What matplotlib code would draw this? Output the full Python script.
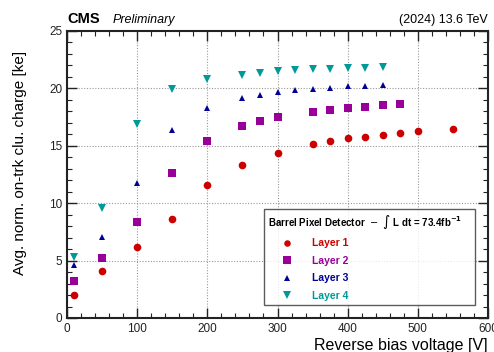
import numpy as np
import matplotlib
matplotlib.use("Agg")
import matplotlib.pyplot as plt
from matplotlib.ticker import MultipleLocator

plt.rcParams['font.family'] = ['Liberation Sans', 'DejaVu Sans']

# ===== 데이터 =====
v_l1 = [10, 50, 100, 150, 200, 250, 300, 350, 375, 400, 425, 450, 475, 500, 550]
q_l1 = [2.0, 4.05, 6.15, 8.6, 11.55, 13.35, 14.4, 15.15, 15.4, 15.65, 15.8, 15.95, 16.1, 16.25, 16.5]

v_l2 = [10, 50, 100, 150, 200, 250, 275, 300, 350, 375, 400, 425, 450, 475]
q_l2 = [3.2, 5.25, 8.33, 12.66, 15.45, 16.72, 17.13, 17.48, 17.92, 18.15, 18.26, 18.4, 18.52, 18.66]

v_l3 = [10, 50, 100, 150, 200, 250, 275, 300, 325, 350, 375, 400, 425, 450]
q_l3 = [4.6, 7.05, 11.8, 16.37, 18.26, 19.13, 19.42, 19.66, 19.83, 19.92, 20.03, 20.18, 20.2, 20.27]

v_l4 = [10, 50, 100, 150, 200, 250, 275, 300, 325, 350, 375, 400, 425, 450]
q_l4 = [5.28, 9.6, 16.9, 19.95, 20.79, 21.19, 21.37, 21.49, 21.6, 21.66, 21.72, 21.8, 21.74, 21.83]

layer_names = ["Layer 1", "Layer 2", "Layer 3", "Layer 4"]
layer_colors = ["#cc0000", "#990099", "#000099", "#009999"]
layer_markers = ["o", "s", "^", "v"]
layer_sizes = [5.5, 6, 5, 6]

# ===== Figure / Axes =====
fig = plt.figure(figsize=(4.94, 3.52), dpi=100)
ax = fig.add_axes([0.1356, 0.0966, 0.8524, 0.8154])

series = [(v_l1, q_l1), (v_l2, q_l2), (v_l3, q_l3), (v_l4, q_l4)]
for (vx, qy), name, c, m, s in zip(series, layer_names, layer_colors, layer_markers, layer_sizes):
    ax.plot(vx, qy, linestyle="none", marker=m, color=c, markersize=s,
            markeredgewidth=0, label=name, zorder=3)

ax.set_xlim(0, 600)
ax.set_ylim(0, 25)
ax.xaxis.set_major_locator(MultipleLocator(100))
ax.xaxis.set_minor_locator(MultipleLocator(20))
ax.yaxis.set_major_locator(MultipleLocator(5))
ax.yaxis.set_minor_locator(MultipleLocator(1))

# ROOT 스타일 눈금 (안쪽, 4면)
ax.tick_params(which="both", direction="in", top=True, right=True, labelsize=8.5,
               colors="#222222")
ax.tick_params(which="major", length=7, width=1)
ax.tick_params(which="minor", length=3.5, width=0.8)
for sp in ax.spines.values():
    sp.set_linewidth(1.5)
    sp.set_color("#222222")

ax.grid(True, which="major", linestyle=(0, (1, 1.5)), color="#999999", linewidth=0.8)
ax.set_axisbelow(True)

ax.set_ylabel("Avg. norm. on-trk clu. charge [ke]", fontsize=11)
ax.yaxis.set_label_coords(-0.095, 0.54)
ax.set_xlabel("Reverse bias voltage [V]", fontsize=11.5, loc="right", labelpad=2)

# 상단 텍스트
fig.text(0.137, 0.925, "CMS", fontsize=10.5, fontweight="bold", ha="left", va="bottom")
fig.text(0.228, 0.925, "Preliminary", fontsize=9, style="italic", ha="left", va="bottom")
fig.text(0.988, 0.925, "(2024) 13.6 TeV", fontsize=9, ha="right", va="bottom")

# 범례
leg = ax.legend(loc="lower left", bbox_to_anchor=(0.468, 0.045, 0.501, 0.31),
                mode="expand", frameon=True, fancybox=False,
                title=r"Barrel Pixel Detector  $-$  $\int$ L dt = 73.4fb$^{\mathbf{-1}}$",
                title_fontproperties={"size": 7, "weight": "bold"},
                prop={"size": 7.5, "weight": "bold"},
                labelspacing=0.72, handletextpad=0.55, borderpad=0.4,
                handlelength=3.7, borderaxespad=0, markerscale=0.85)
leg._legend_box.align = "left"
leg.get_frame().set_edgecolor("#333333")
leg.get_frame().set_linewidth(1.0)
for txt, c in zip(leg.get_texts(), layer_colors):
    txt.set_color(c)

fig.savefig("out.png", dpi=100)
